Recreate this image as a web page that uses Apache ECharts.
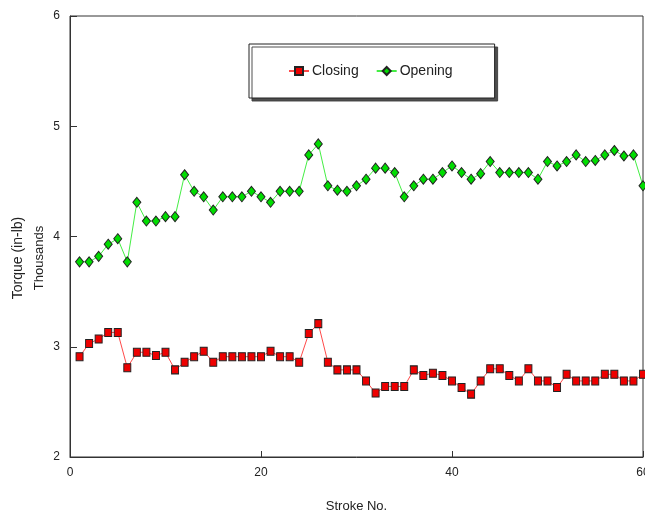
<!DOCTYPE html>
<html><head><meta charset="utf-8">
<script src="https://cdn.jsdelivr.net/npm/echarts@6/dist/echarts.min.js"></script>
<style>html,body{margin:0;padding:0;background:#fff}#c{width:645px;height:516px}</style>
</head><body><div id="c"></div>
<script>
var strokes = [];
for (var i = 1; i <= 60; i++) strokes.push(i);
var closing = [2.91,3.03,3.07,3.13,3.13,2.81,2.95,2.95,2.92,2.95,2.79,2.86,2.91,2.96,2.86,2.91,2.91,2.91,2.91,2.91,
  2.96,2.91,2.91,2.86,3.12,3.21,2.86,2.79,2.79,2.79,2.69,2.58,2.64,2.64,2.64,2.79,2.74,2.76,2.74,2.69,
  2.63,2.57,2.69,2.80,2.80,2.74,2.69,2.80,2.69,2.69,2.63,2.75,2.69,2.69,2.69,2.75,2.75,2.69,2.69,2.75];
var opening = [3.77,3.77,3.82,3.93,3.98,3.77,4.31,4.14,4.14,4.18,4.18,4.56,4.41,4.36,4.24,4.36,4.36,4.36,4.41,4.36,
  4.31,4.41,4.41,4.41,4.74,4.84,4.46,4.42,4.41,4.46,4.52,4.62,4.62,4.58,4.36,4.46,4.52,4.52,4.58,4.64,
  4.58,4.52,4.57,4.68,4.58,4.58,4.58,4.58,4.52,4.68,4.64,4.68,4.74,4.68,4.69,4.74,4.78,4.73,4.74,4.46];
var xTicks = [0, 20, 40, 60];
var yTicks = [2, 3, 4, 5, 6];

function pairs(vals){ return strokes.map(function(s, k){ return [s, vals[k]]; }); }
var FONT = '"Liberation Sans Narrow", "Liberation Sans", Arial, sans-serif';
var chart = echarts.init(document.getElementById('c'), null, {renderer: 'canvas'});
chart.setOption({
  animation: false,
  backgroundColor: '#fff',
  grid: {left: 70, right: 2, top: 16, bottom: 59, show: true, borderColor: '#333', borderWidth: 1,
         containLabel: false, outerBoundsMode: 'none'},
  xAxis: {
    type: 'value', min: xTicks[0], max: xTicks[xTicks.length-1], interval: 20,
    axisLine: {show: true, onZero: false, lineStyle: {color: '#333', width: 1}},
    axisTick: {show: true, inside: true, length: 6, lineStyle: {color: '#333'}},
    axisLabel: {color: '#222', fontSize: 12, fontFamily: FONT, margin: 10},
    splitLine: {show: false},
    name: 'Stroke No.', nameLocation: 'middle', nameGap: 43,
    nameTextStyle: {color: '#222', fontSize: 13, fontFamily: FONT}
  },
  yAxis: {
    type: 'value', min: yTicks[0], max: yTicks[yTicks.length-1], interval: 1,
    axisLine: {show: true, lineStyle: {color: '#333', width: 1}},
    axisTick: {show: true, inside: true, length: 7, lineStyle: {color: '#333'}},
    axisLabel: {color: '#222', fontSize: 12, fontFamily: FONT, margin: 10},
    splitLine: {show: false}
  },
  legend: {
    left: 249, top: 44,
    backgroundColor: '#fff', borderColor: '#222', borderWidth: 1,
    shadowColor: 'rgba(60,60,60,0.9)', shadowOffsetX: 3, shadowOffsetY: 3, shadowBlur: 0,
    padding: [20, 42, 20, 39],
    itemWidth: 20, itemHeight: 10, itemGap: 17,
    textStyle: {color: '#222', fontSize: 14, fontFamily: FONT, padding: [0,0,0,-2]},
    data: ['Closing', 'Opening']
  },
  graphic: [
    {type: 'text', left: 11, top: 'middle', rotation: Math.PI/2,
     style: {text: 'Torque (in-lb)', fill: '#222', font: '14px ' + FONT}},
    {type: 'text', left: 33, top: 'middle', rotation: Math.PI/2,
     style: {text: 'Thousands', fill: '#222', font: '13px ' + FONT}}
  ],
  series: [
    {name: 'Closing', type: 'line', data: pairs(closing),
     symbol: 'rect', symbolSize: [7, 8],
     lineStyle: {color: '#ff4a4a', width: 1},
     itemStyle: {color: '#ee0000', borderColor: '#222', borderWidth: 1}},
    {name: 'Opening', type: 'line', data: pairs(opening),
     symbol: 'diamond', symbolSize: [8, 10],
     lineStyle: {color: '#44ee44', width: 1},
     itemStyle: {color: '#00dd00', borderColor: '#222', borderWidth: 1}}
  ]
});
</script></body></html>
